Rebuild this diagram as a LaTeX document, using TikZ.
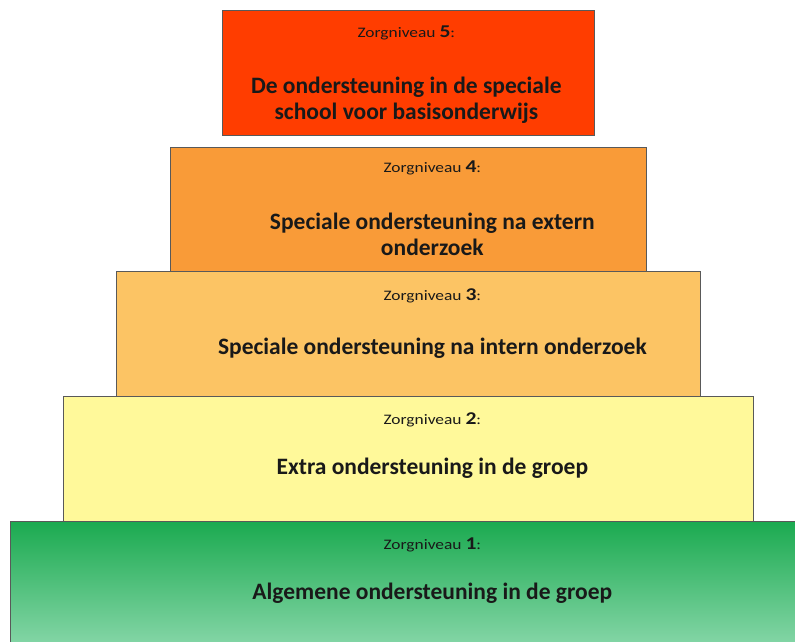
\documentclass[tikz,border=0pt]{standalone}
\usepackage{fontspec}
\setmainfont{Carlito}
\newfontfamily\kopfont[FakeStretch=1.2]{Carlito}
\usetikzlibrary{positioning}

\definecolor{zorgvijf}{HTML}{FF3D00}
\definecolor{zorgvier}{HTML}{F99B38}
\definecolor{zorgdrie}{HTML}{FCC464}
\definecolor{zorgtwee}{HTML}{FFF99A}
\definecolor{zorgeentop}{HTML}{1BAA50}
\definecolor{zorgeenbot}{HTML}{8AD8AB}

\tikzset{
	niveau/.style={draw=black!65, line width=0.7pt, minimum height=125pt, inner sep=0pt, anchor=north west},
	kop/.style={font=\kopfont\fontsize{14.5}{15}\selectfont, text=black!90},
	uitleg/.style={font=\fontsize{23.5}{26}\selectfont\bfseries, align=center, text=black!90},
}
\newcommand{\nr}[1]{{\fontsize{18}{18}\selectfont\bfseries #1}}

\begin{document}
\begin{tikzpicture}[x=1pt,y=-1pt]
	\fill[white] (0,0) rectangle (795,641);
	\useasboundingbox (0,0) rectangle (795,641);
	
	% de piramide, van onder naar boven
	\node[niveau, top color=zorgeentop, bottom color=zorgeenbot, minimum width=796pt, minimum height=130pt] (niv1) at (10,521) {};
	\node[niveau, fill=zorgtwee, minimum width=690pt] (niv2) at (63,396) {};
	\node[niveau, fill=zorgdrie, minimum width=584pt] (niv3) at (116,271) {};
	\node[niveau, fill=zorgvier, minimum width=476pt, minimum height=124pt] (niv4) at (170,147) {};
	\node[niveau, fill=zorgvijf, minimum width=372pt] (niv5) at (222,10) {};
	
	% teksten
	\node[kop, below=24pt of niv1.north, anchor=center, xshift=24pt] (kop1) {Zorgniveau \nr{1}:};
	\node[kop, below=24pt of niv2.north, anchor=center, xshift=24pt] (kop2) {Zorgniveau \nr{2}:};
	\node[kop, below=25pt of niv3.north, anchor=center, xshift=24pt] (kop3) {Zorgniveau \nr{3}:};
	\node[kop, below=21pt of niv4.north, anchor=center, xshift=24pt] (kop4) {Zorgniveau \nr{4}:};
	\node[kop, below=23pt of niv5.north, anchor=center, xshift=-2pt] (kop5) {Zorgniveau \nr{5}:};
	
	\node[uitleg, below=48pt of kop1.center, anchor=center] (tekst1) {Algemene ondersteuning in de groep};
	\node[uitleg, below=48pt of kop2.center, anchor=center] (tekst2) {Extra ondersteuning in de groep};
	\node[uitleg, below=52pt of kop3.center, anchor=center] (tekst3) {Speciale ondersteuning na intern onderzoek};
	\node[uitleg, below=66pt of kop4.center, anchor=center] (tekst4) {Speciale ondersteuning na extern\\onderzoek\hspace{48pt}};
	\node[uitleg, below=67pt of kop5.center, anchor=center] (tekst5) {De ondersteuning in de speciale\\school voor basisonderwijs};
\end{tikzpicture}
\end{document}
